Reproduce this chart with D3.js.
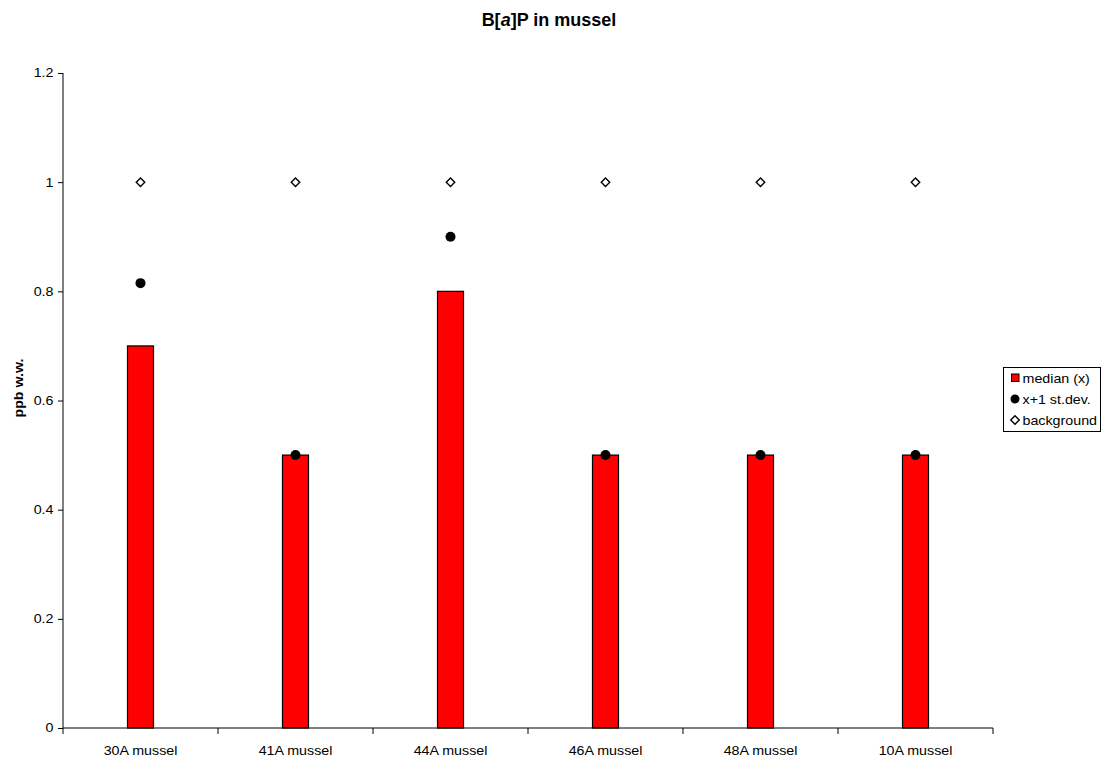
<!DOCTYPE html>
<html><head><meta charset="utf-8">
<script src="https://cdn.jsdelivr.net/npm/d3@7"></script>
<style>body{margin:0;background:#fff;font-family:"Liberation Sans",Arial,sans-serif;}</style>
</head><body><svg id="c" width="1103" height="760"></svg>
<script>
const categories = ["30A mussel","41A mussel","44A mussel","46A mussel","48A mussel","10A mussel"];
const median = [0.7,0.5,0.8,0.5,0.5,0.5];
const stdev1 = [0.815,0.5,0.9,0.5,0.5,0.5];
const background = [1,1,1,1,1,1];
const yTicks = [0,0.2,0.4,0.6,0.8,1,1.2];

const svg = d3.select("#c");
const m = {l:63, r:993, t:73, b:728};
const x = d3.scaleBand().domain(categories).range([m.l,m.r]);
const y = d3.scaleLinear().domain([0,1.2]).range([m.b,m.t]);
const font = "Liberation Sans, Arial, sans-serif";
const SX = 1.19;

// title
const t = svg.append("text").attr("x",549).attr("y",25.5).attr("text-anchor","middle")
 .attr("font-family",font).attr("font-size",18).attr("font-weight","bold");
t.append("tspan").text("B[");
t.append("tspan").attr("font-style","italic").text("a");
t.append("tspan").text("]P in mussel");

// y axis
const ya = svg.append("g").attr("transform",`translate(${m.l},0)`)
 .call(d3.axisLeft(y).tickValues(yTicks).tickFormat(d=>String(d)).tickSize(5).tickPadding(3));
ya.selectAll("text").attr("font-family",font).attr("font-size",12).attr("fill","#000")
 .attr("transform",`scale(${SX},1)`);
ya.selectAll("line,path").attr("stroke","#000");
ya.select(".domain").attr("d",`M0,${m.t}V${m.b}`);

svg.append("text").attr("transform",`translate(23,388) rotate(-90) scale(${SX},1)`).attr("text-anchor","middle")
 .attr("font-family",font).attr("font-size",12).attr("font-weight","bold").text("ppb w.w.");

// bars
const bw = 26;
svg.append("g").selectAll("rect").data(median).join("rect")
 .attr("x",(d,i)=>x(categories[i])+x.bandwidth()/2-bw/2).attr("width",bw)
 .attr("y",d=>y(d)).attr("height",d=>y(0)-y(d))
 .attr("fill","#ff0000").attr("stroke","#000").attr("stroke-width",1.2);

// x axis
const xa = svg.append("g").attr("transform",`translate(0,${m.b})`);
xa.append("line").attr("x1",m.l).attr("x2",m.r).attr("stroke","#000");
const bounds = categories.map(c=>x(c)).concat([m.r]);
xa.selectAll("line.tk").data(bounds).join("line").attr("class","tk")
 .attr("x1",d=>d).attr("x2",d=>d).attr("y1",0).attr("y2",6).attr("stroke","#000");
xa.selectAll("text").data(categories).join("text")
 .attr("transform",d=>`translate(${x(d)+x.bandwidth()/2},26.5) scale(${SX},1)`).attr("text-anchor","middle")
 .attr("font-family",font).attr("font-size",12).text(d=>d);

// dots
svg.append("g").selectAll("circle").data(stdev1).join("circle")
 .attr("cx",(d,i)=>x(categories[i])+x.bandwidth()/2).attr("cy",d=>y(d)).attr("r",5).attr("fill","#000");

// diamonds
const dsym = d3.symbol().type(d3.symbolDiamond2).size(46);
svg.append("g").selectAll("path").data(background).join("path")
 .attr("transform",(d,i)=>`translate(${x(categories[i])+x.bandwidth()/2},${y(d)})`)
 .attr("d",dsym).attr("fill","#fff").attr("stroke","#000").attr("stroke-width",1.4);

// legend
const lg = svg.append("g").attr("transform","translate(1003.5,367.5)");
lg.append("rect").attr("width",97).attr("height",64).attr("fill","#fff").attr("stroke","#000");
const items = ["median (x)","x+1 st.dev.","background"];
items.forEach((s,i)=>{
  const cy = 10.5+i*21;
  if(i===0) lg.append("rect").attr("x",8).attr("y",cy-4).attr("width",7.5).attr("height",7.5).attr("fill","#f00").attr("stroke","#000");
  if(i===1) lg.append("circle").attr("cx",11.5).attr("cy",cy).attr("r",4.5).attr("fill","#000");
  if(i===2) lg.append("path").attr("transform",`translate(11.5,${cy})`).attr("d",dsym).attr("fill","#fff").attr("stroke","#000").attr("stroke-width",1.4);
  lg.append("text").attr("transform",`translate(19,${cy+4.5}) scale(${SX},1)`).attr("font-family",font).attr("font-size",12).text(s);
});
</script></body></html>
